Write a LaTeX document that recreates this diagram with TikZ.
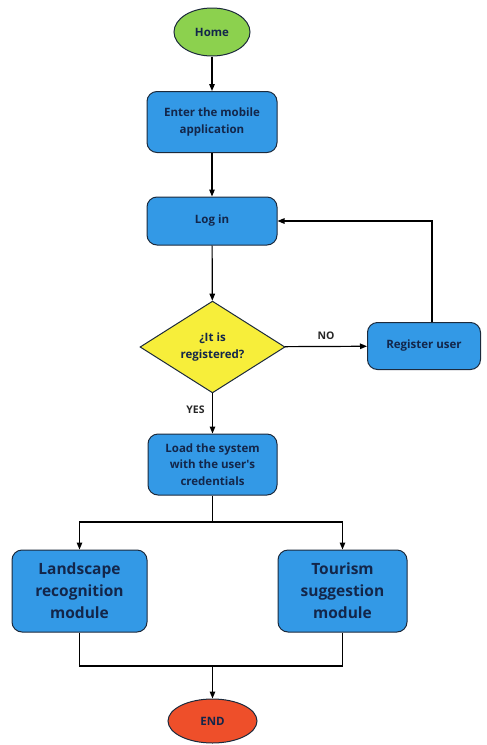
\documentclass[tikz,border=0pt]{standalone}
\usepackage{fontspec}
\setmainfont{Open Sans}[BoldFont={* Bold}]
\usetikzlibrary{shapes.geometric,arrows.meta}
\definecolor{bluefill}{HTML}{3399E6}
\definecolor{txtcol}{HTML}{13264A}
\definecolor{greenfill}{HTML}{8CD14E}
\definecolor{yellowfill}{HTML}{F7EE3A}
\definecolor{redfill}{HTML}{EE4F2A}
\definecolor{edgecol}{HTML}{1C2A3C}
\begin{document}
\begin{tikzpicture}[x=1pt,y=-1pt,
  base/.style={draw=edgecol,line width=1pt,text=txtcol,font=\bfseries,align=center,inner sep=0pt},
  smalltext/.style={font=\fontsize{11.5}{16.5}\selectfont\bfseries},
  bigtext/.style={font=\fontsize{15.5}{22}\selectfont\bfseries},
  procbox/.style={base,rectangle,rounded corners=10pt,fill=bluefill},
  terminal/.style={base,ellipse,smalltext},
  conn/.style={draw=black,line width=1.2pt},
  arr/.style={conn,-{Triangle[length=7pt,width=5.5pt]}},
  lbl/.style={font=\fontsize{10.5}{12}\selectfont\bfseries,text=black!85}
]
\useasboundingbox (0,0) rectangle (487,745);
\node[terminal,fill=greenfill,minimum width=76pt,minimum height=48pt] (home) at (212,32) {Home};
\node[procbox,smalltext,minimum width=130pt,minimum height=61pt] (enter) at (212,122) {Enter the mobile\\application};
\node[procbox,smalltext,minimum width=130pt,minimum height=48pt] (login) at (212,221) {Log in};
\node[base,diamond,fill=yellowfill,smalltext,minimum width=145pt,minimum height=85pt] (reg) at (212.5,347) {¿It is\\registered?};
\node[procbox,smalltext,minimum width=113pt,minimum height=47pt] (register) at (424,346) {Register user};
\node[procbox,smalltext,minimum width=129pt,minimum height=61pt] (load) at (212.5,464.5) {Load the system\\with the user\textquotesingle s\\credentials};
\node[procbox,bigtext,minimum width=135pt,minimum height=82pt] (land) at (79.5,591) {Landscape\\recognition\\module};
\node[procbox,bigtext,minimum width=129pt,minimum height=82pt] (tour) at (342.5,591) {Tourism\\suggestion\\module};
\node[terminal,fill=redfill,minimum width=89pt,minimum height=44pt] (finish) at (212.5,721) {END};

\coordinate (split) at (212.5,522);
\coordinate (merge) at (212.5,666);

\draw[arr] (home) -- (enter);
\draw[arr] (enter) -- (login);
\draw[arr] (login) -- (reg);
\draw[arr] (reg) -- node[lbl,above=3pt] {NO} (register);
\draw[arr] (register.north -| 432,0) |- (login.east);
\draw[arr] (reg) -- node[lbl,pos=0.4,left=4pt] {YES} (load);
\draw[conn] (load) -- (split);
\draw[arr] (split) -| (land.north);
\draw[arr] (split) -| (tour.north);
\draw[conn] (land.south) |- (merge);
\draw[conn] (tour.south) |- (merge);
\draw[arr] (merge) -- (finish);
\end{tikzpicture}
\end{document}
